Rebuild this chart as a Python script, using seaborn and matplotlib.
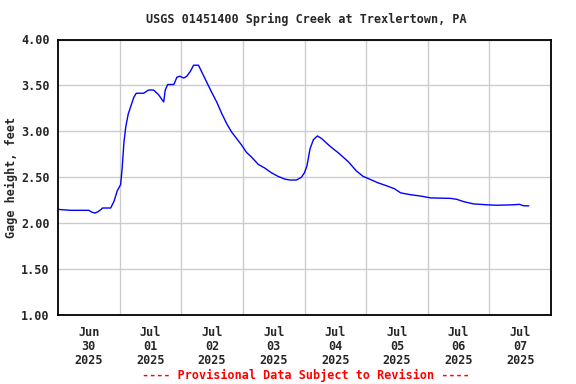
import pandas as pd
import matplotlib
matplotlib.use("Agg")
import matplotlib.pyplot as plt
import seaborn as sns

# Gage height readings (days since Jun 30 2025 00:00, feet)
days = [0.00, 0.10, 0.20, 0.30, 0.40, 0.50, 0.55, 0.60, 0.65, 0.70, 0.72,
        0.80, 0.855, 0.91, 0.96, 1.016, 1.04, 1.07, 1.10, 1.14, 1.18, 1.23,
        1.27, 1.39, 1.47, 1.55, 1.63, 1.715, 1.74, 1.78, 1.88, 1.93, 1.98,
        2.04, 2.09, 2.145, 2.20, 2.28, 2.33, 2.41, 2.49, 2.575, 2.66, 2.74,
        2.82, 2.90, 2.98, 3.06, 3.14, 3.25, 3.355, 3.46, 3.57, 3.68, 3.76,
        3.87, 3.95, 4.00, 4.04, 4.09, 4.145, 4.21, 4.28, 4.41, 4.55, 4.71,
        4.84, 4.95, 5.055, 5.19, 5.32, 5.46, 5.56, 5.72, 5.885, 6.05, 6.37,
        6.47, 6.58, 6.74, 6.96, 7.12, 7.385, 7.49, 7.55, 7.64]
gage_ft = [2.15, 2.145, 2.14, 2.14, 2.14, 2.14, 2.12, 2.11, 2.125, 2.15, 2.165,
           2.165, 2.165, 2.24, 2.35, 2.42, 2.59, 2.88, 3.05, 3.19, 3.27, 3.37,
           3.415, 3.415, 3.45, 3.45, 3.40, 3.32, 3.45, 3.51, 3.51, 3.59, 3.60,
           3.58, 3.60, 3.65, 3.72, 3.72, 3.65, 3.54, 3.43, 3.32, 3.19, 3.08,
           2.99, 2.92, 2.85, 2.77, 2.72, 2.64, 2.60, 2.55, 2.51, 2.48, 2.47,
           2.47, 2.50, 2.55, 2.625, 2.81, 2.91, 2.95, 2.92, 2.84, 2.765, 2.67,
           2.57, 2.51, 2.48, 2.44, 2.41, 2.375, 2.33, 2.31, 2.295, 2.275, 2.27,
           2.26, 2.235, 2.21, 2.20, 2.195, 2.20, 2.205, 2.19, 2.188]

y_ticks = [1.0, 1.5, 2.0, 2.5, 3.0, 3.5, 4.0]
day_labels = ["Jun\n30\n2025", "Jul\n01\n2025", "Jul\n02\n2025", "Jul\n03\n2025",
              "Jul\n04\n2025", "Jul\n05\n2025", "Jul\n06\n2025", "Jul\n07\n2025"]

start = pd.Timestamp("2025-06-30")
df = pd.DataFrame({
    "time": start + pd.to_timedelta(days, unit="D"),
    "gage": gage_ft,
})

sns.set_style("white")
plt.rcParams["font.family"] = ["DejaVu Sans Mono"]
plt.rcParams["font.weight"] = "bold"

fig = plt.figure(figsize=(5.76, 3.84), dpi=100)
ax = fig.add_axes([58 / 576, 69 / 384, 493 / 576, 275.5 / 384])

sns.lineplot(data=df, x="time", y="gage", ax=ax, color="#0000ff", linewidth=1.0)

ax.set_xlim(start, start + pd.Timedelta(days=8))
ax.set_ylim(1.0, 4.0)

# labels at noon, grid at midnight
noon = [start + pd.Timedelta(hours=12 + 24 * i) for i in range(8)]
midnight = [start + pd.Timedelta(days=i) for i in range(1, 8)]
ax.set_xticks(noon)
ax.set_xticklabels(day_labels, fontsize=8.5, fontweight="bold", linespacing=1.1)
ax.set_xticks(midnight, minor=True)
ax.set_yticks(y_ticks)
ax.set_yticklabels([f"{v:.2f}" for v in y_ticks], fontsize=8.5, fontweight="bold")

ax.grid(False)
ax.grid(True, which="minor", axis="x", color="#cccccc", linewidth=1)
ax.grid(True, which="major", axis="y", color="#cccccc", linewidth=1)
ax.tick_params(axis="both", which="both", length=0)
ax.tick_params(axis="x", pad=8)
ax.tick_params(axis="y", pad=6)

for s in ax.spines.values():
    s.set_color("black")
    s.set_linewidth(1.3)

ax.set_xlabel("")
ax.set_ylabel("Gage height, feet", fontsize=8.5, fontweight="bold")
ax.yaxis.set_label_coords(-40 / 493, 0.5)

fig.text(306 / 576, 1 - 19 / 384, "USGS 01451400 Spring Creek at Trexlertown, PA",
         ha="center", va="center", fontsize=8.5, fontweight="bold")
fig.text(306 / 576, 1 - 375 / 384, "---- Provisional Data Subject to Revision ----",
         ha="center", va="center", fontsize=8.5, fontweight="bold", color="red")

fig.savefig("out.png", dpi=100)
